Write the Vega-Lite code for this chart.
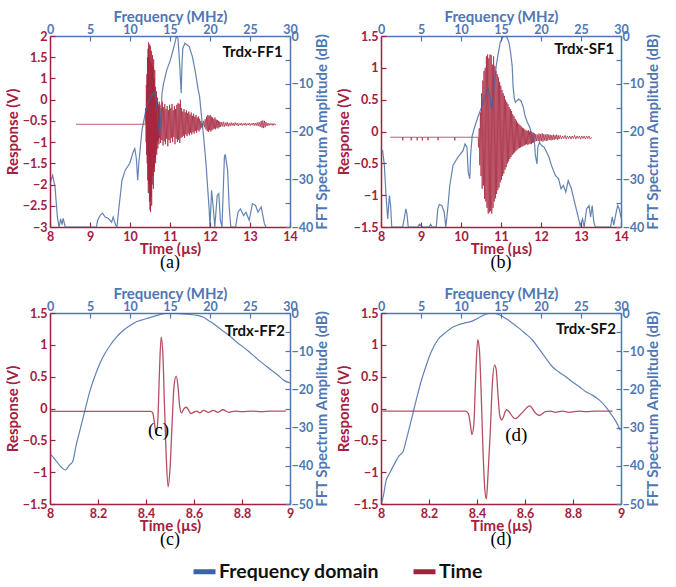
{
"$schema":"https://vega.github.io/schema/vega-lite/v6.json",
"padding":{"left":5,"top":9,"right":0,"bottom":0},
"datasets":{
"at":[{"t":8.65,"v":-0.58},{"t":10.38,"v":-0.58},{"t":10.395,"v":-0.2},{"t":10.402,"v":-1.0},{"t":10.409,"v":0.35},{"t":10.416,"v":-1.3},{"t":10.423,"v":0.6},{"t":10.43,"v":-1.5},{"t":10.437,"v":1.0},{"t":10.444,"v":-1.9},{"t":10.451,"v":1.2},{"t":10.458,"v":-2.2},{"t":10.465,"v":1.35},{"t":10.472,"v":-2.0},{"t":10.479,"v":1.0},{"t":10.486,"v":-2.4},{"t":10.493,"v":1.3},{"t":10.5,"v":-2.6},{"t":10.507,"v":1.26},{"t":10.514,"v":-2.65},{"t":10.521,"v":0.9},{"t":10.528,"v":-2.3},{"t":10.535,"v":1.15},{"t":10.542,"v":-2.5},{"t":10.549,"v":0.8},{"t":10.556,"v":-2.0},{"t":10.563,"v":1.05},{"t":10.57,"v":-1.8},{"t":10.577,"v":0.75},{"t":10.584,"v":-2.1},{"t":10.591,"v":0.95},{"t":10.598,"v":-1.6},{"t":10.605,"v":0.5},{"t":10.612,"v":-1.7},{"t":10.619,"v":0.7},{"t":10.626,"v":-1.4},{"t":10.633,"v":0.3},{"t":10.64,"v":-1.5},{"t":10.647,"v":0.1},{"t":10.654,"v":-1.2},{"t":10.661,"v":0.2},{"t":10.668,"v":-1.3},{"t":10.675,"v":-0.05},{"t":10.682,"v":-1.0},{"t":10.689,"v":0.05},{"t":10.696,"v":-1.15},{"t":10.703,"v":-0.1},{"t":10.71,"v":-0.95},{"t":10.717,"v":-0.15},{"t":10.724,"v":-1.05},{"t":10.731,"v":-0.05},{"t":10.738,"v":-0.9},{"t":10.75,"v":-0.12},{"t":10.765,"v":-1.02},{"t":10.78,"v":-0.2},{"t":10.795,"v":-0.95},{"t":10.81,"v":-0.05},{"t":10.825,"v":-1.08},{"t":10.84,"v":-0.18},{"t":10.855,"v":-0.98},{"t":10.87,"v":-0.1},{"t":10.885,"v":-1.05},{"t":10.9,"v":-0.22},{"t":10.915,"v":-0.92},{"t":10.93,"v":-0.15},{"t":10.945,"v":-1.1},{"t":10.96,"v":-0.25},{"t":10.975,"v":-0.95},{"t":10.99,"v":-0.12},{"t":11.005,"v":-1.02},{"t":11.02,"v":-0.2},{"t":11.035,"v":-0.9},{"t":11.05,"v":-0.1},{"t":11.065,"v":-1.0},{"t":11.08,"v":-0.25},{"t":11.095,"v":-0.88},{"t":11.11,"v":-0.15},{"t":11.125,"v":-1.05},{"t":11.14,"v":-0.22},{"t":11.155,"v":-0.92},{"t":11.17,"v":-0.12},{"t":11.185,"v":-1.0},{"t":11.2,"v":-0.08},{"t":11.215,"v":-0.95},{"t":11.23,"v":-0.1},{"t":11.245,"v":-1.02},{"t":11.26,"v":0.0},{"t":11.275,"v":-0.9},{"t":11.29,"v":-0.2},{"t":11.305,"v":-0.88},{"t":11.32,"v":-0.28},{"t":11.335,"v":-0.85},{"t":11.35,"v":-0.22},{"t":11.365,"v":-0.9},{"t":11.38,"v":-0.3},{"t":11.395,"v":-0.82},{"t":11.41,"v":-0.25},{"t":11.425,"v":-0.86},{"t":11.44,"v":-0.32},{"t":11.455,"v":-0.8},{"t":11.47,"v":-0.28},{"t":11.485,"v":-0.84},{"t":11.5,"v":-0.35},{"t":11.515,"v":-0.78},{"t":11.53,"v":-0.3},{"t":11.545,"v":-0.82},{"t":11.56,"v":-0.38},{"t":11.575,"v":-0.76},{"t":11.59,"v":-0.33},{"t":11.605,"v":-0.8},{"t":11.62,"v":-0.4},{"t":11.635,"v":-0.74},{"t":11.65,"v":-0.36},{"t":11.665,"v":-0.78},{"t":11.68,"v":-0.42},{"t":11.695,"v":-0.72},{"t":11.71,"v":-0.4},{"t":11.725,"v":-0.75},{"t":11.74,"v":-0.45},{"t":11.755,"v":-0.7},{"t":11.77,"v":-0.5},{"t":11.785,"v":-0.66},{"t":11.8,"v":-0.55},{"t":11.82,"v":-0.62},{"t":11.84,"v":-0.5},{"t":11.86,"v":-0.65},{"t":11.88,"v":-0.46},{"t":11.9,"v":-0.7},{"t":11.915,"v":-0.4},{"t":11.93,"v":-0.74},{"t":11.945,"v":-0.36},{"t":11.96,"v":-0.76},{"t":11.975,"v":-0.38},{"t":11.99,"v":-0.72},{"t":12.005,"v":-0.36},{"t":12.02,"v":-0.75},{"t":12.035,"v":-0.4},{"t":12.05,"v":-0.72},{"t":12.065,"v":-0.42},{"t":12.08,"v":-0.7},{"t":12.095,"v":-0.45},{"t":12.11,"v":-0.68},{"t":12.125,"v":-0.42},{"t":12.14,"v":-0.7},{"t":12.155,"v":-0.47},{"t":12.17,"v":-0.66},{"t":12.185,"v":-0.48},{"t":12.2,"v":-0.68},{"t":12.215,"v":-0.5},{"t":12.23,"v":-0.65},{"t":12.245,"v":-0.52},{"t":12.26,"v":-0.64},{"t":12.28,"v":-0.53},{"t":12.305,"v":-0.63},{"t":12.33,"v":-0.52},{"t":12.355,"v":-0.64},{"t":12.38,"v":-0.54},{"t":12.405,"v":-0.62},{"t":12.43,"v":-0.53},{"t":12.455,"v":-0.63},{"t":12.48,"v":-0.55},{"t":12.505,"v":-0.62},{"t":12.53,"v":-0.54},{"t":12.555,"v":-0.61},{"t":12.58,"v":-0.55},{"t":12.605,"v":-0.62},{"t":12.63,"v":-0.54},{"t":12.655,"v":-0.6},{"t":12.68,"v":-0.55},{"t":12.705,"v":-0.62},{"t":12.73,"v":-0.56},{"t":12.755,"v":-0.6},{"t":12.78,"v":-0.55},{"t":12.805,"v":-0.61},{"t":12.83,"v":-0.56},{"t":12.855,"v":-0.6},{"t":12.88,"v":-0.55},{"t":12.905,"v":-0.61},{"t":12.93,"v":-0.56},{"t":12.955,"v":-0.6},{"t":12.98,"v":-0.55},{"t":13.005,"v":-0.61},{"t":13.03,"v":-0.56},{"t":13.055,"v":-0.6},{"t":13.08,"v":-0.55},{"t":13.105,"v":-0.61},{"t":13.13,"v":-0.55},{"t":13.155,"v":-0.61},{"t":13.18,"v":-0.54},{"t":13.205,"v":-0.62},{"t":13.23,"v":-0.53},{"t":13.255,"v":-0.64},{"t":13.28,"v":-0.5},{"t":13.3,"v":-0.66},{"t":13.32,"v":-0.49},{"t":13.34,"v":-0.67},{"t":13.36,"v":-0.5},{"t":13.38,"v":-0.65},{"t":13.4,"v":-0.53},{"t":13.425,"v":-0.62},{"t":13.45,"v":-0.55},{"t":13.475,"v":-0.61},{"t":13.5,"v":-0.56},{"t":13.525,"v":-0.6},{"t":13.55,"v":-0.56},{"t":13.575,"v":-0.61},{"t":13.6,"v":-0.56},{"t":13.625,"v":-0.6},{"t":13.65,"v":-0.58}],
"af":[{"f":0,"d":-30.9},{"f":0.33,"d":-29.2},{"f":0.63,"d":-31.6},{"f":0.92,"d":-37.9},{"f":1.13,"d":-40},{"f":1.34,"d":-38.3},{"f":1.5,"d":-39.5},{"f":1.65,"d":-38.2},{"f":1.9,"d":-40},{"f":5.8,"d":-40},{"f":5.95,"d":-38.6},{"f":6.3,"d":-37.5},{"f":6.57,"d":-37.1},{"f":6.9,"d":-37.9},{"f":7.3,"d":-38.2},{"f":7.7,"d":-39.0},{"f":7.9,"d":-37.9},{"f":8.2,"d":-39.6},{"f":8.37,"d":-40},{"f":8.58,"d":-36.5},{"f":9.0,"d":-30.2},{"f":9.4,"d":-28.1},{"f":9.96,"d":-26.7},{"f":10.4,"d":-24.3},{"f":10.6,"d":-23.6},{"f":10.8,"d":-25.7},{"f":10.96,"d":-30.2},{"f":11.1,"d":-26.7},{"f":11.5,"d":-19.7},{"f":11.9,"d":-16.2},{"f":12.3,"d":-13.8},{"f":12.7,"d":-12.4},{"f":13.05,"d":-12.0},{"f":13.3,"d":-13.8},{"f":13.5,"d":-17.6},{"f":13.7,"d":-20.9},{"f":13.9,"d":-15.5},{"f":14.0,"d":-12.0},{"f":14.2,"d":-9.9},{"f":14.6,"d":-7.1},{"f":15.06,"d":-5.0},{"f":15.5,"d":-2.2},{"f":15.8,"d":-0.1},{"f":16.0,"d":-0.5},{"f":16.2,"d":-5.7},{"f":16.4,"d":-12.0},{"f":16.5,"d":-5.7},{"f":16.6,"d":-2.6},{"f":16.86,"d":-1.5},{"f":17.4,"d":-2.2},{"f":17.8,"d":-4.3},{"f":18.2,"d":-7.8},{"f":18.5,"d":-11.0},{"f":18.7,"d":-12.7},{"f":18.9,"d":-16.2},{"f":19.2,"d":-21.1},{"f":19.5,"d":-26.7},{"f":19.7,"d":-31.6},{"f":19.9,"d":-36.5},{"f":20.0,"d":-40},{"f":20.2,"d":-32.3},{"f":20.4,"d":-35.8},{"f":20.6,"d":-40},{"f":20.9,"d":-33.4},{"f":21.1,"d":-33.0},{"f":21.3,"d":-38.6},{"f":21.5,"d":-40},{"f":21.8,"d":-25.3},{"f":21.9,"d":-24.8},{"f":22.2,"d":-28.1},{"f":22.4,"d":-35.8},{"f":22.6,"d":-40},{"f":23.2,"d":-40},{"f":23.5,"d":-36.9},{"f":23.8,"d":-36.2},{"f":24.2,"d":-37.6},{"f":24.5,"d":-36.9},{"f":24.9,"d":-38.6},{"f":25.3,"d":-35.1},{"f":25.7,"d":-35.5},{"f":26.0,"d":-36.9},{"f":26.4,"d":-35.8},{"f":26.8,"d":-39.3},{"f":27.0,"d":-40}],
"bt":[{"t":8.23,"v":-0.09},{"t":8.54,"v":-0.09},{"t":8.545,"v":-0.14},{"t":8.55,"v":-0.09},{"t":8.75,"v":-0.09},{"t":8.755,"v":-0.14},{"t":8.76,"v":-0.09},{"t":8.9,"v":-0.09},{"t":8.905,"v":-0.14},{"t":8.91,"v":-0.09},{"t":9.03,"v":-0.09},{"t":9.035,"v":-0.14},{"t":9.04,"v":-0.09},{"t":9.17,"v":-0.09},{"t":9.175,"v":-0.14},{"t":9.18,"v":-0.09},{"t":9.42,"v":-0.09},{"t":9.425,"v":-0.14},{"t":9.43,"v":-0.09},{"t":9.84,"v":-0.09},{"t":9.845,"v":-0.14},{"t":9.85,"v":-0.09},{"t":10.43,"v":-0.09},{"t":10.44,"v":-0.25},{"t":10.455,"v":0.05},{"t":10.47,"v":-0.53},{"t":10.485,"v":0.3},{"t":10.5,"v":-0.7},{"t":10.515,"v":0.6},{"t":10.53,"v":-0.9},{"t":10.545,"v":0.8},{"t":10.56,"v":-0.85},{"t":10.575,"v":0.95},{"t":10.59,"v":-1.06},{"t":10.605,"v":1.0},{"t":10.62,"v":-1.1},{"t":10.635,"v":1.18},{"t":10.65,"v":-1.2},{"t":10.665,"v":1.21},{"t":10.68,"v":-1.29},{"t":10.695,"v":1.15},{"t":10.71,"v":-1.27},{"t":10.725,"v":1.21},{"t":10.74,"v":-1.25},{"t":10.755,"v":1.2},{"t":10.77,"v":-1.29},{"t":10.785,"v":1.05},{"t":10.8,"v":-1.2},{"t":10.815,"v":1.18},{"t":10.83,"v":-1.1},{"t":10.845,"v":1.03},{"t":10.86,"v":-1.05},{"t":10.875,"v":0.95},{"t":10.89,"v":-0.98},{"t":10.905,"v":0.9},{"t":10.92,"v":-0.92},{"t":10.935,"v":0.85},{"t":10.95,"v":-0.88},{"t":10.965,"v":0.78},{"t":10.98,"v":-0.8},{"t":10.995,"v":0.72},{"t":11.01,"v":-0.76},{"t":11.025,"v":0.65},{"t":11.04,"v":-0.7},{"t":11.055,"v":0.6},{"t":11.07,"v":-0.66},{"t":11.085,"v":0.56},{"t":11.1,"v":-0.6},{"t":11.115,"v":0.5},{"t":11.13,"v":-0.56},{"t":11.145,"v":0.46},{"t":11.16,"v":-0.5},{"t":11.175,"v":0.43},{"t":11.19,"v":-0.47},{"t":11.205,"v":0.38},{"t":11.22,"v":-0.43},{"t":11.235,"v":0.35},{"t":11.25,"v":-0.4},{"t":11.265,"v":0.32},{"t":11.28,"v":-0.37},{"t":11.295,"v":0.27},{"t":11.31,"v":-0.35},{"t":11.325,"v":0.24},{"t":11.34,"v":-0.33},{"t":11.355,"v":0.2},{"t":11.37,"v":-0.31},{"t":11.385,"v":0.17},{"t":11.4,"v":-0.29},{"t":11.415,"v":0.14},{"t":11.43,"v":-0.27},{"t":11.445,"v":0.12},{"t":11.46,"v":-0.26},{"t":11.475,"v":0.1},{"t":11.49,"v":-0.25},{"t":11.505,"v":0.08},{"t":11.52,"v":-0.24},{"t":11.535,"v":0.06},{"t":11.55,"v":-0.23},{"t":11.565,"v":0.05},{"t":11.58,"v":-0.22},{"t":11.595,"v":0.03},{"t":11.61,"v":-0.21},{"t":11.625,"v":0.02},{"t":11.64,"v":-0.2},{"t":11.655,"v":0.01},{"t":11.67,"v":-0.21},{"t":11.685,"v":0.02},{"t":11.7,"v":-0.2},{"t":11.715,"v":0.0},{"t":11.73,"v":-0.19},{"t":11.745,"v":0.01},{"t":11.76,"v":-0.2},{"t":11.775,"v":-0.01},{"t":11.79,"v":-0.18},{"t":11.805,"v":-0.02},{"t":11.82,"v":-0.17},{"t":11.835,"v":-0.03},{"t":11.85,"v":-0.16},{"t":11.87,"v":-0.04},{"t":11.89,"v":-0.15},{"t":11.91,"v":-0.05},{"t":11.93,"v":-0.15},{"t":11.95,"v":-0.03},{"t":11.97,"v":-0.16},{"t":11.99,"v":-0.04},{"t":12.01,"v":-0.15},{"t":12.03,"v":-0.03},{"t":12.05,"v":-0.16},{"t":12.07,"v":-0.04},{"t":12.09,"v":-0.14},{"t":12.11,"v":-0.05},{"t":12.13,"v":-0.15},{"t":12.15,"v":-0.04},{"t":12.17,"v":-0.14},{"t":12.19,"v":-0.05},{"t":12.21,"v":-0.13},{"t":12.23,"v":-0.05},{"t":12.25,"v":-0.14},{"t":12.27,"v":-0.06},{"t":12.29,"v":-0.13},{"t":12.31,"v":-0.05},{"t":12.33,"v":-0.13},{"t":12.35,"v":-0.06},{"t":12.37,"v":-0.12},{"t":12.39,"v":-0.05},{"t":12.41,"v":-0.13},{"t":12.43,"v":-0.06},{"t":12.45,"v":-0.12},{"t":12.48,"v":-0.06},{"t":12.51,"v":-0.12},{"t":12.54,"v":-0.07},{"t":12.57,"v":-0.11},{"t":12.6,"v":-0.06},{"t":12.63,"v":-0.12},{"t":12.66,"v":-0.07},{"t":12.69,"v":-0.11},{"t":12.72,"v":-0.07},{"t":12.75,"v":-0.12},{"t":12.78,"v":-0.07},{"t":12.81,"v":-0.11},{"t":12.84,"v":-0.06},{"t":12.87,"v":-0.12},{"t":12.9,"v":-0.07},{"t":12.93,"v":-0.11},{"t":12.96,"v":-0.07},{"t":12.99,"v":-0.12},{"t":13.02,"v":-0.07},{"t":13.05,"v":-0.11},{"t":13.08,"v":-0.07},{"t":13.11,"v":-0.12},{"t":13.14,"v":-0.07},{"t":13.17,"v":-0.11},{"t":13.2,"v":-0.07},{"t":13.23,"v":-0.12},{"t":13.27,"v":-0.09}],
"bf":[{"f":0,"d":-24.3},{"f":0.2,"d":-24.0},{"f":0.42,"d":-27.1},{"f":0.63,"d":-33.4},{"f":0.84,"d":-38.3},{"f":1.05,"d":-33.4},{"f":1.2,"d":-35.5},{"f":1.34,"d":-40},{"f":2.7,"d":-40},{"f":2.9,"d":-38.3},{"f":3.1,"d":-36.2},{"f":3.25,"d":-37.3},{"f":3.4,"d":-40},{"f":4.6,"d":-40},{"f":4.8,"d":-39.4},{"f":5.2,"d":-40},{"f":6.0,"d":-40},{"f":6.2,"d":-39.4},{"f":6.4,"d":-40},{"f":6.9,"d":-40},{"f":7.1,"d":-36.2},{"f":7.3,"d":-35.3},{"f":7.6,"d":-35.5},{"f":7.9,"d":-36.9},{"f":8.1,"d":-40},{"f":8.3,"d":-36.9},{"f":8.6,"d":-31.3},{"f":9.0,"d":-27.1},{"f":9.6,"d":-25.4},{"f":10.25,"d":-24.0},{"f":10.5,"d":-22.6},{"f":10.75,"d":-23.3},{"f":10.9,"d":-28.5},{"f":11.1,"d":-29.9},{"f":11.2,"d":-25.0},{"f":11.4,"d":-20.9},{"f":11.7,"d":-19.1},{"f":12.1,"d":-17.0},{"f":12.55,"d":-15.0},{"f":12.9,"d":-13.2},{"f":13.2,"d":-11.5},{"f":13.4,"d":-11.1},{"f":13.6,"d":-12.5},{"f":13.8,"d":-15.3},{"f":14.0,"d":-13.2},{"f":14.2,"d":-9.7},{"f":14.4,"d":-6.3},{"f":14.6,"d":-4.2},{"f":14.9,"d":-1.4},{"f":15.3,"d":0},{"f":15.7,"d":-0.1},{"f":16.0,"d":-1.4},{"f":16.2,"d":-3.5},{"f":16.4,"d":-6.3},{"f":16.5,"d":-10.4},{"f":16.65,"d":-12.9},{"f":16.8,"d":-13.9},{"f":17.2,"d":-13.2},{"f":17.5,"d":-13.6},{"f":17.8,"d":-15.0},{"f":18.0,"d":-16.7},{"f":18.3,"d":-18.1},{"f":18.6,"d":-19.1},{"f":18.9,"d":-21.2},{"f":19.2,"d":-22.6},{"f":19.3,"d":-25.0},{"f":19.5,"d":-26.8},{"f":19.6,"d":-23.3},{"f":19.8,"d":-22.3},{"f":20.1,"d":-23.0},{"f":20.4,"d":-23.3},{"f":20.7,"d":-24.3},{"f":21.0,"d":-25.4},{"f":21.3,"d":-27.1},{"f":21.8,"d":-29.2},{"f":22.2,"d":-29.9},{"f":22.5,"d":-32.0},{"f":22.8,"d":-31.3},{"f":23.1,"d":-32.7},{"f":23.4,"d":-30.3},{"f":23.8,"d":-32.0},{"f":24.1,"d":-34.1},{"f":24.5,"d":-36.9},{"f":24.9,"d":-39.7},{"f":25.2,"d":-38.3},{"f":25.4,"d":-40},{"f":25.7,"d":-36.2},{"f":26.0,"d":-35.5},{"f":26.2,"d":-37.9},{"f":26.4,"d":-35.5},{"f":26.6,"d":-39.0},{"f":26.8,"d":-40},{"f":28.7,"d":-40},{"f":28.9,"d":-37.9},{"f":29.1,"d":-39.6},{"f":29.4,"d":-36.9},{"f":29.6,"d":-35.5},{"f":29.8,"d":-36.3},{"f":30,"d":-38}],
"ct":[{"t":8,"v":-0.045},{"t":8.42,"v":-0.045},{"t":8.428,"v":-0.07},{"t":8.434,"v":-0.19},{"t":8.442,"v":-0.39},{"t":8.449,"v":-0.21},{"t":8.456,"v":0.57},{"t":8.463,"v":1.12},{"t":8.47,"v":0.88},{"t":8.477,"v":0.05},{"t":8.484,"v":-0.73},{"t":8.492,"v":-1.23},{"t":8.501,"v":-0.89},{"t":8.509,"v":-0.21},{"t":8.517,"v":0.36},{"t":8.526,"v":0.51},{"t":8.533,"v":0.36},{"t":8.54,"v":0.05},{"t":8.548,"v":-0.07},{"t":8.559,"v":0.0},{"t":8.568,"v":0.02},{"t":8.578,"v":-0.03},{"t":8.587,"v":-0.08},{"t":8.598,"v":-0.06},{"t":8.612,"v":-0.04},{"t":8.624,"v":-0.07},{"t":8.64,"v":-0.03},{"t":8.66,"v":-0.06},{"t":8.68,"v":-0.03},{"t":8.7,"v":-0.06},{"t":8.72,"v":-0.02},{"t":8.745,"v":-0.06},{"t":8.77,"v":-0.04},{"t":8.8,"v":-0.05},{"t":8.84,"v":-0.04},{"t":8.88,"v":-0.05},{"t":8.92,"v":-0.04},{"t":8.983,"v":-0.04}],
"cf":[{"f":0,"d":-36.8},{"f":0.55,"d":-38.1},{"f":1.38,"d":-40.3},{"f":1.93,"d":-41.1},{"f":2.43,"d":-39.8},{"f":2.85,"d":-38.8},{"f":3.27,"d":-34.6},{"f":3.69,"d":-31.1},{"f":4.32,"d":-25.9},{"f":4.95,"d":-20.7},{"f":5.79,"d":-15.5},{"f":6.6,"d":-11.6},{"f":7.5,"d":-8.5},{"f":8.3,"d":-6.3},{"f":9.15,"d":-4.6},{"f":10.0,"d":-3.3},{"f":10.8,"d":-2.3},{"f":11.7,"d":-1.7},{"f":12.5,"d":-1.2},{"f":13.3,"d":-0.7},{"f":14.2,"d":-0.2},{"f":15.0,"d":0},{"f":16.3,"d":-0.2},{"f":17.5,"d":-0.4},{"f":18.6,"d":-0.7},{"f":19.2,"d":-1.1},{"f":19.85,"d":-2.0},{"f":20.5,"d":-2.9},{"f":21.3,"d":-4.2},{"f":22.4,"d":-5.9},{"f":23.4,"d":-7.7},{"f":24.7,"d":-9.8},{"f":25.9,"d":-12.0},{"f":27.2,"d":-14.2},{"f":28.5,"d":-16.3},{"f":29.3,"d":-17.7},{"f":30,"d":-18.3}],
"dt":[{"t":8.007,"v":-0.04},{"t":8.352,"v":-0.04},{"t":8.364,"v":-0.08},{"t":8.372,"v":-0.24},{"t":8.379,"v":-0.41},{"t":8.387,"v":-0.24},{"t":8.394,"v":0.45},{"t":8.403,"v":1.08},{"t":8.41,"v":0.92},{"t":8.417,"v":0.29},{"t":8.425,"v":-0.66},{"t":8.432,"v":-1.24},{"t":8.439,"v":-1.42},{"t":8.446,"v":-1.03},{"t":8.455,"v":-0.39},{"t":8.464,"v":0.39},{"t":8.473,"v":0.68},{"t":8.48,"v":0.61},{"t":8.487,"v":0.24},{"t":8.495,"v":-0.11},{"t":8.503,"v":-0.18},{"t":8.523,"v":-0.02},{"t":8.559,"v":-0.16},{"t":8.587,"v":-0.07},{"t":8.62,"v":0.04},{"t":8.643,"v":-0.07},{"t":8.66,"v":-0.11},{"t":8.685,"v":-0.05},{"t":8.706,"v":-0.04},{"t":8.727,"v":-0.06},{"t":8.755,"v":-0.04},{"t":8.783,"v":-0.06},{"t":8.825,"v":-0.04},{"t":8.853,"v":-0.05},{"t":8.895,"v":-0.04},{"t":8.965,"v":-0.04}],
"df":[{"f":0.08,"d":-49.6},{"f":0.34,"d":-47.4},{"f":0.63,"d":-43.9},{"f":1.05,"d":-42.1},{"f":1.68,"d":-39.5},{"f":2.3,"d":-37.3},{"f":2.73,"d":-36.4},{"f":3.15,"d":-33.3},{"f":3.78,"d":-28.1},{"f":4.4,"d":-22.8},{"f":5.0,"d":-18.0},{"f":5.67,"d":-13.6},{"f":6.3,"d":-10.1},{"f":7.1,"d":-7.0},{"f":7.97,"d":-5.3},{"f":8.8,"d":-3.9},{"f":9.65,"d":-3.1},{"f":10.5,"d":-2.6},{"f":11.3,"d":-2.2},{"f":12.2,"d":-1.3},{"f":13.0,"d":-0.4},{"f":14.06,"d":0},{"f":14.7,"d":-0.4},{"f":15.5,"d":-1.3},{"f":16.4,"d":-2.6},{"f":17.2,"d":-3.9},{"f":18.0,"d":-5.3},{"f":18.9,"d":-7.0},{"f":19.7,"d":-9.2},{"f":20.6,"d":-11.8},{"f":21.4,"d":-14.0},{"f":22.2,"d":-15.4},{"f":23.1,"d":-16.7},{"f":23.9,"d":-18.0},{"f":24.8,"d":-19.3},{"f":25.6,"d":-20.6},{"f":26.4,"d":-21.5},{"f":27.3,"d":-22.8},{"f":28.1,"d":-24.6},{"f":28.7,"d":-26.3},{"f":29.4,"d":-28.5},{"f":29.9,"d":-30.7}]
},
"columns":2,
"spacing":{"row":86,"column":91},
"bounds":"flush",
"concat":[
{"width":240,"height":191,
 "title":{"text":"(a)","orient":"bottom","font":"Liberation Serif","fontSize":18,"fontWeight":"normal","color":"#000000","offset":-3},
 "layer":[
  {"data":{"name":"at"},"mark":{"type":"line","strokeWidth":0.9,"opacity":0.8,"clip":true},
   "encoding":{
     "x":{"field":"t","type":"quantitative","scale":{"domain":[8,14],"nice":false,"zero":false},"axis":{"orient":"bottom","title":"Time (µs)","format":"~g","titlePadding":-1,"values":[8,9,10,11,12,13,14],"domainColor":"#a3203f","tickColor":"#a3203f","labelColor":"#a3203f","titleColor":"#a3203f"}},
     "y":{"field":"v","type":"quantitative","scale":{"domain":[-3,1.5],"nice":false,"zero":false},"axis":{"orient":"left","title":"Response (V)","format":"~g","values":[-3,-2.5,-2,-1.5,-1,-0.5,0,0.5,1,1.5],"labelExpr":"datum.value > 0.25 ? format(datum.value + 0.5, '~g') : datum.label","domainColor":"#a3203f","tickColor":"#a3203f","labelColor":"#a3203f","titleColor":"#a3203f"}},
     "color":{"datum":"Time","type":"nominal","scale":{"domain":["Frequency domain","Time"],"range":["#3c64a0","#a5223a"]},"legend":{"orient":"none","legendX":141,"legendY":522,"direction":"horizontal","title":null}}}},
  {"data":{"name":"af"},"mark":{"type":"line","strokeWidth":1.2,"opacity":0.8,"clip":true},
   "encoding":{
     "x":{"field":"f","type":"quantitative","scale":{"domain":[0,30],"nice":false,"zero":false},"axis":{"orient":"top","title":"Frequency (MHz)","labelPadding":5,"titlePadding":-1,"values":[0,5,10,15,20,25,30],"domainColor":"#4f77b3","tickColor":"#4f77b3","labelColor":"#4f77b3","titleColor":"#4f77b3"}},
     "y":{"field":"d","type":"quantitative","scale":{"domain":[-40,0],"nice":false,"zero":false},"axis":{"orient":"right","title":"FFT Spectrum Amplitude (dB)","titleAngle":270,"titleBaseline":"top","labelPadding":6,"values":[-40,-35,-30,-25,-20,-15,-10,-5,0],"labelExpr":"datum.value % 10 == 0 ? datum.label : ''","domainColor":"#4f77b3","tickColor":"#4f77b3","labelColor":"#4f77b3","titleColor":"#4f77b3"}},
     "color":{"datum":"Frequency domain","type":"nominal"}}},
  {"data":{"values":[{"tag":"Trdx-FF1"}]},"mark":{"type":"text","align":"right","baseline":"middle","font":"Lato","fontWeight":"bold","fontSize":15,"color":"#111111"},
   "encoding":{"text":{"field":"tag"},"x":{"datum":13.82,"type":"quantitative","scale":{"domain":[8,14],"nice":false,"zero":false},"axis":null},"y":{"datum":1.13,"type":"quantitative","scale":{"domain":[-3,1.5],"nice":false,"zero":false},"axis":null}}}
 ],
 "resolve":{"scale":{"x":"independent","y":"independent"}}},
{"width":240,"height":191,
 "title":{"text":"(b)","orient":"bottom","font":"Liberation Serif","fontSize":18,"fontWeight":"normal","color":"#000000","offset":-3},
 "layer":[
  {"data":{"name":"bt"},"mark":{"type":"line","strokeWidth":0.9,"opacity":0.8,"clip":true},
   "encoding":{
     "x":{"field":"t","type":"quantitative","scale":{"domain":[8,14],"nice":false,"zero":false},"axis":{"orient":"bottom","title":"Time (µs)","format":"~g","titlePadding":-1,"values":[8,9,10,11,12,13,14],"domainColor":"#a3203f","tickColor":"#a3203f","labelColor":"#a3203f","titleColor":"#a3203f"}},
     "y":{"field":"v","type":"quantitative","scale":{"domain":[-1.5,1.5],"nice":false,"zero":false},"axis":{"orient":"left","title":"Response (V)","format":"~g","values":[-1.5,-1,-0.5,0,0.5,1,1.5],"domainColor":"#a3203f","tickColor":"#a3203f","labelColor":"#a3203f","titleColor":"#a3203f"}},
     "color":{"datum":"Time","type":"nominal"}}},
  {"data":{"name":"bf"},"mark":{"type":"line","strokeWidth":1.2,"opacity":0.8,"clip":true},
   "encoding":{
     "x":{"field":"f","type":"quantitative","scale":{"domain":[0,30],"nice":false,"zero":false},"axis":{"orient":"top","title":"Frequency (MHz)","labelPadding":5,"titlePadding":-1,"values":[0,5,10,15,20,25,30],"domainColor":"#4f77b3","tickColor":"#4f77b3","labelColor":"#4f77b3","titleColor":"#4f77b3"}},
     "y":{"field":"d","type":"quantitative","scale":{"domain":[-40,0],"nice":false,"zero":false},"axis":{"orient":"right","title":"FFT Spectrum Amplitude (dB)","titleAngle":270,"titleBaseline":"top","labelPadding":6,"values":[-40,-35,-30,-25,-20,-15,-10,-5,0],"labelExpr":"datum.value % 10 == 0 ? datum.label : ''","domainColor":"#4f77b3","tickColor":"#4f77b3","labelColor":"#4f77b3","titleColor":"#4f77b3"}},
     "color":{"datum":"Frequency domain","type":"nominal"}}},
  {"data":{"values":[{"tag":"Trdx-SF1"}]},"mark":{"type":"text","align":"right","baseline":"middle","font":"Lato","fontWeight":"bold","fontSize":15,"color":"#111111"},
   "encoding":{"text":{"field":"tag"},"x":{"datum":13.83,"type":"quantitative","scale":{"domain":[8,14],"nice":false,"zero":false},"axis":null},"y":{"datum":1.3,"type":"quantitative","scale":{"domain":[-1.5,1.5],"nice":false,"zero":false},"axis":null}}}
 ],
 "resolve":{"scale":{"x":"independent","y":"independent"}}},
{"width":240,"height":191,
 "title":{"text":"(c)","orient":"bottom","font":"Liberation Serif","fontSize":18,"fontWeight":"normal","color":"#000000","offset":-3},
 "layer":[
  {"data":{"name":"ct"},"mark":{"type":"line","strokeWidth":1.3,"opacity":0.8,"interpolate":"monotone","clip":true},
   "encoding":{
     "x":{"field":"t","type":"quantitative","scale":{"domain":[8,9],"nice":false,"zero":false},"axis":{"orient":"bottom","title":"Time (µs)","format":"~g","titlePadding":-1,"values":[8,8.2,8.4,8.6,8.8,9],"domainColor":"#a3203f","tickColor":"#a3203f","labelColor":"#a3203f","titleColor":"#a3203f"}},
     "y":{"field":"v","type":"quantitative","scale":{"domain":[-1.5,1.5],"nice":false,"zero":false},"axis":{"orient":"left","title":"Response (V)","format":"~g","values":[-1.5,-1,-0.5,0,0.5,1,1.5],"domainColor":"#a3203f","tickColor":"#a3203f","labelColor":"#a3203f","titleColor":"#a3203f"}},
     "color":{"datum":"Time","type":"nominal"}}},
  {"data":{"name":"cf"},"mark":{"type":"line","strokeWidth":1.2,"opacity":0.8,"interpolate":"monotone","clip":true},
   "encoding":{
     "x":{"field":"f","type":"quantitative","scale":{"domain":[0,30],"nice":false,"zero":false},"axis":{"orient":"top","title":"Frequency (MHz)","labelPadding":5,"titlePadding":-1,"values":[0,5,10,15,20,25,30],"domainColor":"#4f77b3","tickColor":"#4f77b3","labelColor":"#4f77b3","titleColor":"#4f77b3"}},
     "y":{"field":"d","type":"quantitative","scale":{"domain":[-50,0],"nice":false,"zero":false},"axis":{"orient":"right","title":"FFT Spectrum Amplitude (dB)","titleAngle":270,"titleBaseline":"top","labelPadding":6,"values":[-50,-45,-40,-35,-30,-25,-20,-15,-10,-5,0],"labelExpr":"datum.value % 10 == 0 ? datum.label : ''","domainColor":"#4f77b3","tickColor":"#4f77b3","labelColor":"#4f77b3","titleColor":"#4f77b3"}},
     "color":{"datum":"Frequency domain","type":"nominal"}}},
  {"data":{"values":[{"tag":"Trdx-FF2"}]},"mark":{"type":"text","align":"right","baseline":"middle","font":"Lato","fontWeight":"bold","fontSize":15,"color":"#111111"},
   "encoding":{"text":{"field":"tag"},"x":{"datum":8.979,"type":"quantitative","scale":{"domain":[8,9],"nice":false,"zero":false},"axis":null},"y":{"datum":1.22,"type":"quantitative","scale":{"domain":[-1.5,1.5],"nice":false,"zero":false},"axis":null}}},
  {"data":{"values":[{"tag":"(c)"}]},"mark":{"type":"text","align":"center","baseline":"middle","font":"Liberation Serif","fontSize":19,"color":"#000000"},
   "encoding":{"text":{"field":"tag"},"x":{"datum":8.452,"type":"quantitative","scale":{"domain":[8,9],"nice":false,"zero":false},"axis":null},"y":{"datum":-0.34,"type":"quantitative","scale":{"domain":[-1.5,1.5],"nice":false,"zero":false},"axis":null}}}
 ],
 "resolve":{"scale":{"x":"independent","y":"independent"}}},
{"width":240,"height":191,
 "title":{"text":"(d)","orient":"bottom","font":"Liberation Serif","fontSize":18,"fontWeight":"normal","color":"#000000","offset":-3},
 "layer":[
  {"data":{"name":"dt"},"mark":{"type":"line","strokeWidth":1.3,"opacity":0.8,"interpolate":"monotone","clip":true},
   "encoding":{
     "x":{"field":"t","type":"quantitative","scale":{"domain":[8,9],"nice":false,"zero":false},"axis":{"orient":"bottom","title":"Time (µs)","format":"~g","titlePadding":-1,"values":[8,8.2,8.4,8.6,8.8,9],"domainColor":"#a3203f","tickColor":"#a3203f","labelColor":"#a3203f","titleColor":"#a3203f"}},
     "y":{"field":"v","type":"quantitative","scale":{"domain":[-1.5,1.5],"nice":false,"zero":false},"axis":{"orient":"left","title":"Response (V)","format":"~g","values":[-1.5,-1,-0.5,0,0.5,1,1.5],"domainColor":"#a3203f","tickColor":"#a3203f","labelColor":"#a3203f","titleColor":"#a3203f"}},
     "color":{"datum":"Time","type":"nominal"}}},
  {"data":{"name":"df"},"mark":{"type":"line","strokeWidth":1.2,"opacity":0.8,"interpolate":"monotone","clip":true},
   "encoding":{
     "x":{"field":"f","type":"quantitative","scale":{"domain":[0,30],"nice":false,"zero":false},"axis":{"orient":"top","title":"Frequency (MHz)","labelPadding":5,"titlePadding":-1,"values":[0,5,10,15,20,25,30],"domainColor":"#4f77b3","tickColor":"#4f77b3","labelColor":"#4f77b3","titleColor":"#4f77b3"}},
     "y":{"field":"d","type":"quantitative","scale":{"domain":[-50,0],"nice":false,"zero":false},"axis":{"orient":"right","title":"FFT Spectrum Amplitude (dB)","titleAngle":270,"titleBaseline":"top","labelPadding":6,"values":[-50,-45,-40,-35,-30,-25,-20,-15,-10,-5,0],"labelExpr":"datum.value % 10 == 0 ? datum.label : ''","domainColor":"#4f77b3","tickColor":"#4f77b3","labelColor":"#4f77b3","titleColor":"#4f77b3"}},
     "color":{"datum":"Frequency domain","type":"nominal"}}},
  {"data":{"values":[{"tag":"Trdx-SF2"}]},"mark":{"type":"text","align":"right","baseline":"middle","font":"Lato","fontWeight":"bold","fontSize":15,"color":"#111111"},
   "encoding":{"text":{"field":"tag"},"x":{"datum":8.979,"type":"quantitative","scale":{"domain":[8,9],"nice":false,"zero":false},"axis":null},"y":{"datum":1.247,"type":"quantitative","scale":{"domain":[-1.5,1.5],"nice":false,"zero":false},"axis":null}}},
  {"data":{"values":[{"tag":"(d)"}]},"mark":{"type":"text","align":"center","baseline":"middle","font":"Liberation Serif","fontSize":19,"color":"#000000"},
   "encoding":{"text":{"field":"tag"},"x":{"datum":8.564,"type":"quantitative","scale":{"domain":[8,9],"nice":false,"zero":false},"axis":null},"y":{"datum":-0.42,"type":"quantitative","scale":{"domain":[-1.5,1.5],"nice":false,"zero":false},"axis":null}}}
 ],
 "resolve":{"scale":{"x":"independent","y":"independent"}}}
],
"resolve":{"scale":{"color":"shared"},"legend":{"color":"shared"}},
"config":{
 "font":"Lato",
 "view":{"stroke":null},
 "axis":{"grid":false,"labelFont":"Lato","labelFontSize":12.5,"labelFontWeight":"bold","titleFont":"Lato","titleFontSize":15,"titleFontWeight":"bold","tickSize":-5,"labelPadding":8,"domainWidth":1.5,"tickWidth":1.2,"titlePadding":2,"labelFlush":false,"labelOverlap":false,"labelBound":false},
 "legend":{"symbolType":"stroke","symbolStrokeWidth":5,"symbolSize":484,"symbolOpacity":1,"labelFont":"Lato","labelFontSize":19.5,"labelFontWeight":"bold","labelColor":"#111111","columnPadding":24,"labelOffset":1,"labelLimit":300}
}
}
